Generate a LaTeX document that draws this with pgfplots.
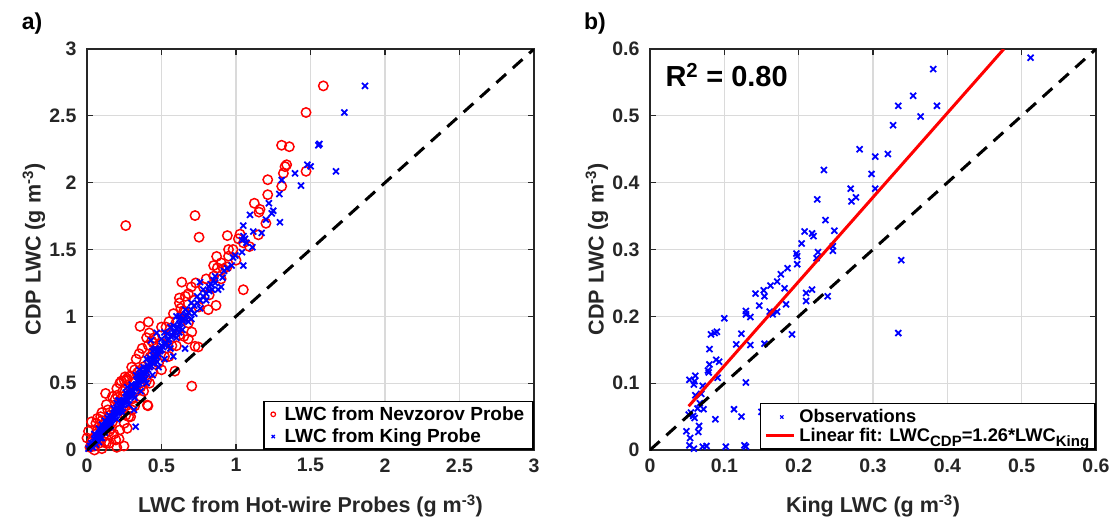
\documentclass[border=0pt]{standalone}
\usepackage{pgfplots}
\pgfplotsset{compat=1.18}
\usepackage{fontspec}
\setmainfont{Liberation Sans}
\definecolor{txtgray}{RGB}{38,38,38}
\definecolor{gridgray}{RGB}{218,218,218}
\definecolor{mred}{RGB}{255,0,0}
\definecolor{mblue}{RGB}{0,0,255}
\newcommand{\sub}[1]{\raisebox{-5pt}{\fontsize{15}{15}\selectfont #1}}
\pgfplotsset{
  panel/.style={
    scale only axis, height=401pt, clip mode=individual,
    axis line style={draw=txtgray, line width=1.8pt},
    tick style={draw=txtgray, line width=1.1pt},
    major tick length=6pt, tick align=inside,
    grid=major, grid style={draw=gridgray, line width=1.3pt},
    /pgf/number format/assume math mode=true,
    ticklabel style={font=\bfseries\fontsize{19.5}{20}\selectfont, text=txtgray},
    xticklabel style={yshift=-5pt},
    yticklabel style={xshift=-7pt},
    every axis x label/.style={at={(rel axis cs:0.5,0)}, yshift=-56pt, anchor=center, font=\bfseries\fontsize{21.5}{22}\selectfont, text=txtgray},
    every axis y label/.style={at={(rel axis cs:0,0.5)}, xshift=-53pt, anchor=center, rotate=90, font=\bfseries\fontsize{21.5}{22}\selectfont, text=txtgray},
    legend cell align=left,
    legend style={at={(rel axis cs:1,0)}, anchor=south east, draw=black, line width=1.6pt,
      fill=white, font=\bfseries\fontsize{19}{19}\selectfont, text=black,
      inner xsep=7pt, inner ysep=3pt, row sep=3pt, column sep=7pt},
  },
  nev/.style={only marks, mark=o, mark size=4.7pt, line width=1.5pt, mark options={draw=mred, line width=1.5pt},
    legend image post style={mark size=2.3pt, mark options={draw=mred, line width=1.2pt}}},
  kin/.style={only marks, mark=x, mark size=4.2pt, line width=1.8pt, mark options={draw=mblue, line width=1.8pt},
    legend image post style={mark size=2.3pt, mark options={draw=mblue, line width=1.2pt}}},
  oneone/.style={black, line width=3pt, dash pattern=on 13pt off 9pt, forget plot, no marks},
  fitleg/.style={legend image code/.code={\draw[##1] (0pt,0pt) -- (28pt,0pt);}},
  obsleg/.style={legend image code/.code={\path (0pt,0pt) (28pt,0pt); \draw[mark repeat=2,mark phase=2,##1] plot coordinates {(0pt,0pt)(16pt,0pt)(28pt,0pt)};}},
}
\begin{document}
\begin{tikzpicture}
\useasboundingbox (-87pt,-81pt) rectangle (1029pt,450pt);
\begin{axis}[panel, width=447pt, at={(0pt,0pt)}, anchor=south west,
  xmin=0, xmax=3, ymin=0, ymax=3,
  xtick={0,0.5,1,1.5,2,2.5,3}, ytick={0,0.5,1,1.5,2,2.5,3},
  xlabel={LWC from Hot-wire Probes (g m\textsuperscript{-3})},
  ylabel={CDP LWC (g m\textsuperscript{-3})}]
\addplot[nev] coordinates {
(1.586,2.724)(1.47,2.525)(1.306,2.28)(1.358,2.269)(1.34,2.134)(1.329,2.12)(1.318,2.07)(1.47,2.085)
(1.213,2.022)(1.307,1.973)(1.213,1.91)(1.123,1.846)(1.161,1.80)(1.154,1.78)(1.201,1.696)(0.26,1.679)
(0.725,1.754)(0.752,1.592)(0.942,1.604)(1.016,1.58)(1.027,1.615)(1.15,1.61)(1.09,1.522)(0.87,1.448)
(0.875,1.363)(0.915,1.356)(0.94,1.37)(1.049,1.199)(0.636,1.256)(0.62,1.137)(0.68,1.169)(0.866,1.082)
(0.814,1.05)(0.658,1.032)(0.356,0.925)(0.412,0.958)(0.418,0.876)(0.434,0.816)(0.445,0.80)(0.411,0.784)
(0.725,0.776)(0.747,0.771)(0.703,0.883)(0.68,0.83)(0.423,0.696)(0.378,0.622)(0.255,0.547)(0.266,0.522)
(0.703,0.478)(0.59,0.59)(0.125,0.423)(0.27,0.535)(0.405,0.336)(0.203,0.41)(0.293,0.249)(0.27,0.162)
(0.248,0.03)(0.03,0.211)(0.069,0.236)(0.092,0.249)(0.01,0.14)(0.0,0.09)(0.193,0.075)(0.215,0.083)
(0.15,0.14)(0.22,0.15)(0.23,0.515)(0.409,0.331)
(0.02,0.02)(0.04,0.08)(0.05,0.03)(0.06,0.12)(0.08,0.05)(0.09,0.16)(0.11,0.10)(0.12,0.2)(0.14,0.17)
(0.15,0.26)(0.17,0.21)(0.18,0.3)(0.2,0.25)(0.21,0.34)(0.23,0.3)(0.24,0.4)(0.26,0.33)(0.28,0.44)
(0.3,0.38)(0.31,0.5)(0.33,0.44)(0.35,0.56)(0.36,0.47)(0.38,0.6)(0.4,0.52)(0.42,0.66)(0.44,0.58)
(0.46,0.73)(0.48,0.65)(0.5,0.8)(0.52,0.7)(0.55,0.87)(0.57,0.78)(0.6,0.96)(0.62,0.86)(0.65,1.04)
(0.68,0.95)(0.72,1.12)(0.75,1.07)(0.78,1.22)(0.82,1.16)(0.85,1.3)(0.9,1.28)(0.95,1.45)(1.0,1.42)
(1.05,1.55)(0.98,1.5)(0.63,1.06)(0.53,0.92)(0.44,0.72)(0.34,0.58)(0.24,0.44)(0.14,0.3)(0.07,0.15)
(0.16,0.16)(0.26,0.26)(0.1,0.22)(0.19,0.38)(0.32,0.6)(0.1,0.01)(0.05,0.0)(0.13,0.05)(0.03,0.06)
(0.06,0.2)(0.1,0.28)(0.13,0.34)(0.17,0.4)(0.2,0.46)(0.22,0.5)(0.25,0.52)(0.28,0.55)(0.3,0.62)
(0.33,0.68)(0.35,0.72)(0.37,0.76)(0.4,0.84)(0.45,0.84)(0.5,0.92)(0.55,0.96)(0.58,1.02)(0.62,1.1)
(0.66,1.15)(0.7,1.22)(0.73,1.25)(0.8,1.28)(0.85,1.38)(0.9,1.4)(0.95,1.5)(0.18,0.12)(0.25,0.2)
(0.3,0.3)(0.36,0.4)(0.42,0.5)(0.5,0.6)(0.55,0.7)(0.6,0.78)(0.65,0.85)(0.2,0.02)(0.15,0.05)
(0.28,0.25)(0.32,0.33)(0.38,0.44)(0.12,0.06)
};
\addlegendentry{LWC from Nevzorov Probe}
\addplot[kin] coordinates {
(0.01,0.01)(0.02,0.03)(0.03,0.03)(0.03,0.05)(0.04,0.05)(0.05,0.06)(0.05,0.08)(0.06,0.07)(0.06,0.09)
(0.07,0.09)(0.07,0.11)(0.08,0.1)(0.08,0.12)(0.09,0.12)(0.09,0.14)(0.1,0.13)(0.1,0.15)(0.11,0.15)
(0.11,0.17)(0.12,0.16)(0.12,0.18)(0.13,0.18)(0.13,0.2)(0.14,0.19)(0.14,0.21)(0.15,0.2)(0.15,0.22)
(0.16,0.22)(0.16,0.24)(0.17,0.23)(0.17,0.25)(0.18,0.25)(0.18,0.27)(0.19,0.26)(0.19,0.28)(0.2,0.28)
(0.2,0.3)(0.21,0.29)(0.21,0.31)(0.22,0.31)(0.22,0.33)(0.23,0.32)(0.23,0.34)(0.24,0.34)(0.24,0.36)
(0.25,0.35)(0.25,0.37)(0.26,0.37)(0.26,0.39)(0.27,0.38)(0.27,0.40)(0.28,0.40)(0.28,0.42)(0.29,0.41)
(0.29,0.43)(0.3,0.43)(0.3,0.45)
(0.04,0.02)(0.06,0.04)(0.08,0.06)(0.1,0.09)(0.12,0.22)(0.15,0.26)(0.2,0.35)(0.327,0.174)(0.315,0.30)
(0.31,0.44)(0.32,0.46)(0.32,0.48)(0.33,0.47)(0.33,0.49)(0.34,0.49)(0.34,0.51)(0.35,0.50)(0.35,0.52)
(0.36,0.52)(0.36,0.55)(0.37,0.53)(0.37,0.56)(0.38,0.55)(0.38,0.58)(0.39,0.57)(0.39,0.6)(0.4,0.58)
(0.4,0.61)(0.41,0.6)(0.41,0.63)(0.42,0.62)(0.42,0.65)(0.43,0.63)(0.43,0.66)(0.44,0.65)(0.44,0.68)
(0.45,0.67)(0.45,0.7)(0.46,0.68)(0.46,0.72)(0.47,0.7)(0.47,0.74)(0.48,0.72)(0.48,0.75)(0.49,0.74)
(0.5,0.75)(0.5,0.78)(0.51,0.77)(0.52,0.79)(0.53,0.8)(0.54,0.82)(0.55,0.83)(0.56,0.85)(0.57,0.86)
(0.58,0.88)(0.59,0.89)(0.6,0.91)(0.61,0.92)(0.62,0.94)(0.63,0.95)(0.64,0.97)(0.65,0.98)(0.66,1.0)
(0.67,1.01)(0.68,1.03)(0.7,1.05)(0.72,1.08)(0.74,1.1)(0.76,1.12)(0.78,1.15)(0.8,1.17)
(0.468,0.876)(0.43,0.82)(0.579,0.70)(0.658,0.759)(0.56,0.92)(0.6,1.0)(0.62,0.98)(0.52,0.88)(0.44,0.74)
(0.05,0.12)(0.08,0.16)(0.1,0.19)(0.12,0.13)(0.14,0.24)(0.16,0.18)(0.18,0.31)(0.2,0.23)(0.22,0.37)
(0.24,0.28)(0.26,0.43)(0.28,0.34)(0.3,0.49)(0.32,0.39)(0.34,0.55)(0.36,0.44)(0.38,0.62)(0.4,0.5)
(0.42,0.69)(0.44,0.56)(0.46,0.76)(0.48,0.62)(0.5,0.83)(0.52,0.68)(0.54,0.87)(0.56,0.76)(0.58,0.93)
(0.6,0.84)(0.62,1.0)(0.64,0.9)(0.66,1.05)(0.68,0.96)(0.7,1.1)(0.72,1.02)(0.74,1.15)(0.76,1.06)
(0.78,1.2)(0.8,1.12)(0.82,1.22)(0.84,1.2)(0.86,1.25)(0.7,0.98)(0.62,0.88)(0.55,0.78)(0.47,0.66)
(0.39,0.53)(0.31,0.41)(0.23,0.29)(0.15,0.17)(0.09,0.09)(0.35,0.6)(0.4,0.68)(0.45,0.75)(0.33,0.56)
(0.27,0.47)(0.21,0.37)
(1.866,2.724)(1.727,2.525)(1.553,2.28)(1.56,2.29)(1.479,2.134)(1.501,2.122)(1.671,2.085)(1.396,2.07)
(1.307,2.02)(1.436,1.978)(1.291,1.915)(1.221,1.846)(1.25,1.79)(1.24,1.77)(1.094,1.759)(1.201,1.724)
(1.295,1.704)(1.049,1.679)(1.116,1.634)(1.172,1.624)(1.05,1.6)(1.06,1.58)(1.04,1.57)(1.07,1.55)
(1.11,1.517)(0.996,1.455)(0.98,1.44)(1.04,1.48)(1.049,1.38)(0.971,1.38)(0.94,1.36)(0.92,1.34)
(0.86,1.30)(0.91,1.29)(0.758,1.256)(0.83,1.24)(0.85,1.27)(0.88,1.2)(0.82,1.19)(0.9,1.22)
};
\addlegendentry{LWC from King Probe}
\addplot[oneone] coordinates {(0,0)(3,3)};
\node[font=\bfseries\fontsize{23}{24}\selectfont, text=black] at (rel axis cs:0,1) [xshift=-55pt, yshift=25pt] {a)};
\end{axis}
\begin{axis}[panel, width=446pt, at={(563pt,0pt)}, anchor=south west,
  xmin=0, xmax=0.6, ymin=0, ymax=0.6,
  xtick={0,0.1,0.2,0.3,0.4,0.5,0.6}, ytick={0,0.1,0.2,0.3,0.4,0.5,0.6},
  xlabel={King LWC (g m\textsuperscript{-3})},
  ylabel={CDP LWC (g m\textsuperscript{-3})},
  legend style={row sep=0pt, inner ysep=4pt, inner xsep=4pt, column sep=2pt, font=\bfseries\fontsize{18.3}{19}\selectfont}]
\addplot[kin, obsleg] coordinates {
(0.512,0.587)(0.381,0.570)(0.354,0.530)(0.334,0.515)(0.386,0.515)(0.364,0.499)(0.327,0.486)(0.282,0.450)
(0.303,0.439)(0.320,0.443)(0.298,0.413)(0.234,0.419)(0.270,0.391)(0.271,0.372)(0.277,0.378)(0.303,0.391)
(0.225,0.375)(0.236,0.344)(0.248,0.328)(0.208,0.327)(0.218,0.324)(0.220,0.320)(0.204,0.309)(0.246,0.305)
(0.246,0.298)(0.226,0.296)(0.224,0.287)(0.197,0.294)(0.198,0.290)(0.198,0.278)(0.338,0.284)(0.185,0.272)
(0.176,0.263)(0.171,0.252)(0.181,0.242)(0.162,0.246)(0.153,0.239)(0.154,0.230)(0.142,0.234)(0.147,0.216)
(0.183,0.218)(0.210,0.235)(0.218,0.240)(0.210,0.223)(0.239,0.230)(0.161,0.207)(0.165,0.203)(0.171,0.207)
(0.129,0.208)(0.129,0.203)(0.135,0.199)(0.100,0.197)(0.123,0.174)(0.191,0.173)(0.334,0.175)(0.082,0.173)
(0.087,0.175)(0.090,0.177)(0.116,0.158)(0.135,0.157)(0.154,0.159)(0.080,0.151)(0.089,0.135)(0.093,0.132)
(0.080,0.128)(0.078,0.119)(0.079,0.116)(0.091,0.108)(0.129,0.101)(0.053,0.105)(0.060,0.103)(0.061,0.111)
(0.059,0.098)(0.071,0.096)(0.061,0.082)(0.069,0.084)(0.072,0.061)(0.113,0.061)(0.123,0.050)(0.150,0.057)
(0.088,0.046)(0.052,0.053)(0.058,0.051)(0.060,0.048)(0.055,0.056)(0.066,0.036)(0.065,0.027)(0.049,0.028)
(0.054,0.018)(0.053,0.007)(0.059,0.002)(0.071,0.005)(0.076,0.006)(0.102,0.005)(0.129,0.005)(0.127,0.007)
(0.064,0.062)(0.067,0.070)
};
\addlegendentry{Observations}
\addplot[mred, line width=3pt, no marks, fitleg] coordinates {(0.052,0.0655)(0.476,0.6)};
\addlegendentry{Linear fit: LWC\sub{CDP}=1.26*LWC\sub{King}}
\addplot[oneone] coordinates {(0,0)(0.6,0.6)};
\node[anchor=west, font=\bfseries\fontsize{29}{30}\selectfont, text=black] at (rel axis cs:0,1) [xshift=12pt, yshift=-26pt] {R\textsuperscript{2} = 0.80};
\node[font=\bfseries\fontsize{23}{24}\selectfont, text=black] at (rel axis cs:0,1) [xshift=-55pt, yshift=25pt] {b)};
\end{axis}
\end{tikzpicture}
\end{document}
